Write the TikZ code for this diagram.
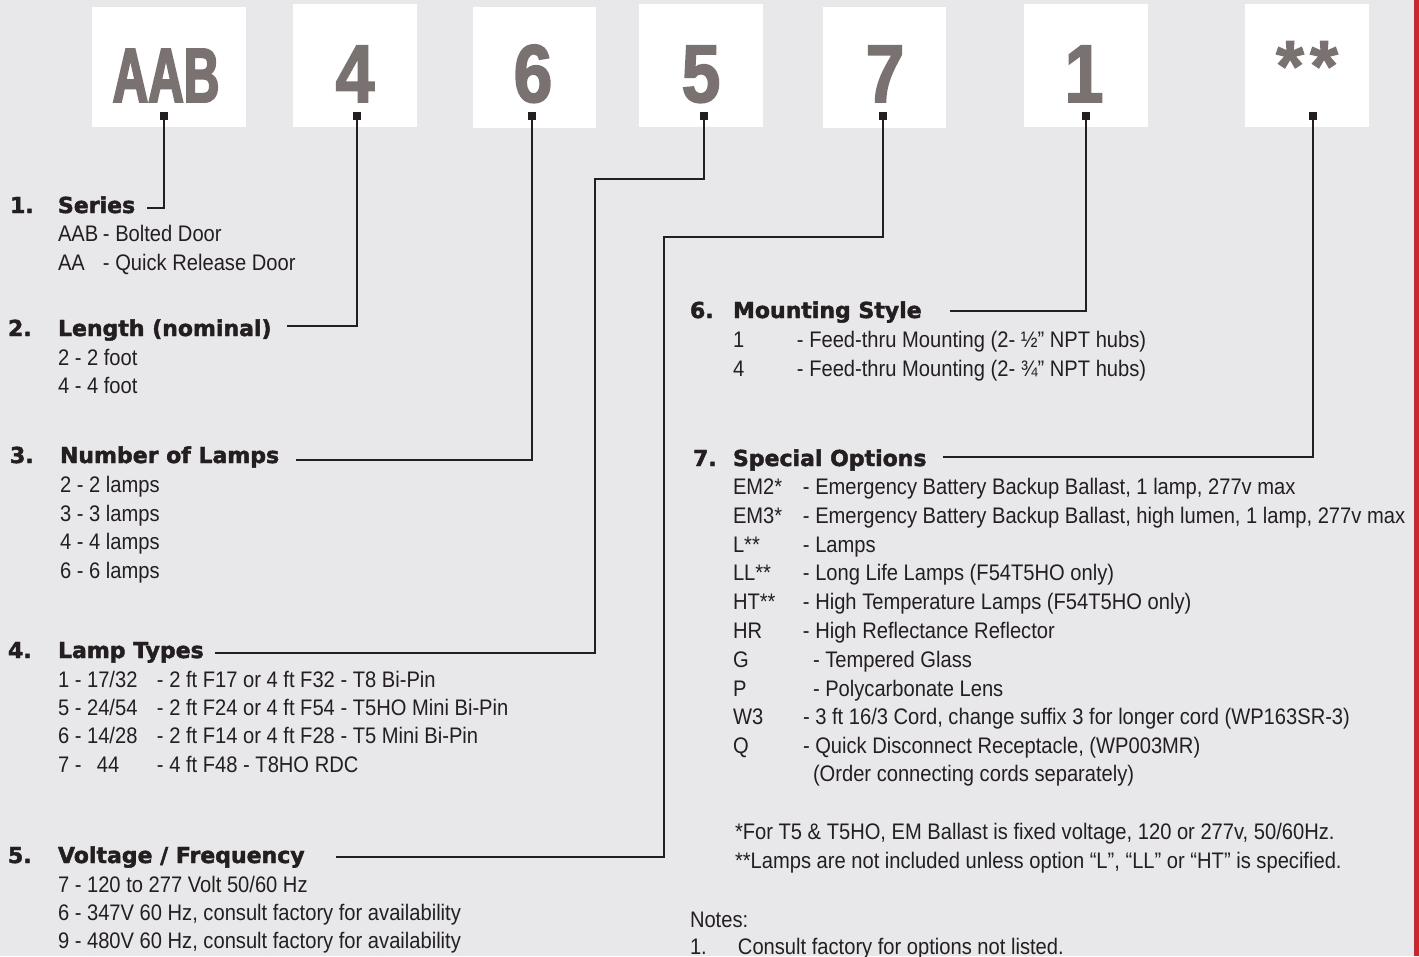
\documentclass[tikz,border=0pt]{standalone}
\usepackage{fontspec}
\setmainfont{Liberation Sans}[FakeStretch=0.895]
\newfontfamily\headfont{DejaVu Sans Bold}[FakeBold=2]
\newfontfamily\bigletters{Liberation Sans Bold}[FakeStretch=0.64,FakeBold=2.5]
\newfontfamily\bigdigits{Liberation Sans Bold}[FakeStretch=0.85,FakeBold=2]
\newfontfamily\starfont{Liberation Sans Bold}[FakeBold=1.5]
\definecolor{bg}{RGB}{232,232,234}
\definecolor{ink}{RGB}{35,31,32}
\definecolor{glyph}{RGB}{122,114,112}
\definecolor{redbar}{RGB}{210,35,42}
\begin{document}
\begin{tikzpicture}[x=1pt,y=-1pt,
  txt/.style={anchor=base west,inner sep=0pt,outer sep=0pt,text=ink,font=\fontsize{22.5}{27}\selectfont},
  head/.style={anchor=base west,inner sep=0pt,outer sep=0pt,text=ink,font=\headfont\fontsize{22}{26}\selectfont},
  codebox/.style={fill=white,draw=none,inner sep=0pt,anchor=north west},
  bigtxt/.style={anchor=base,inner sep=0pt,text=glyph},
  pin/.style={fill=ink,draw=none,minimum size=8pt,inner sep=0pt},
  wire/.style={draw=ink,line width=2.6pt}]
\useasboundingbox (0,0) rectangle (1419,956);
\fill[bg] (0,0) rectangle (1419,956);
\fill[redbar] (1414,0) rectangle (1419,956);

% code boxes
\node[codebox,minimum width=154pt,minimum height=120pt] (b1) at (92,7) {};
\node[codebox,minimum width=124pt,minimum height=123pt] (b2) at (293,4) {};
\node[codebox,minimum width=123pt,minimum height=121pt] (b3) at (473,7) {};
\node[codebox,minimum width=124pt,minimum height=123pt] (b4) at (639,4) {};
\node[codebox,minimum width=123pt,minimum height=121pt] (b5) at (823,7) {};
\node[codebox,minimum width=124pt,minimum height=123pt] (b6) at (1024,4) {};
\node[codebox,minimum width=124pt,minimum height=123pt] (b7) at (1245,4) {};

\node[bigtxt,font=\bigletters\fontsize{77}{80}\selectfont] (g1) at (166,102) {AAB};
\node[bigtxt,font=\bigdigits\fontsize{82}{85}\selectfont] (g2) at (355,102) {4};
\node[bigtxt,font=\bigdigits\fontsize{82}{85}\selectfont] (g3) at (533,102) {6};
\node[bigtxt,font=\bigdigits\fontsize{82}{85}\selectfont] (g4) at (701,102) {5};
\node[bigtxt,font=\bigdigits\fontsize{82}{85}\selectfont] (g5) at (885,102) {7};
\node[bigtxt,font=\bigdigits\fontsize{82}{85}\selectfont] (g6) at (1084,102) {1};
\node[anchor=center,inner sep=0pt,text=glyph,font=\starfont\fontsize{72}{75}\selectfont] (g7) at (1307,66) {*\hspace{6pt}*};

% pins
\node[pin] (p1) at (164,116) {};
\node[pin] (p2) at (357,116) {};
\node[pin] (p3) at (532,116) {};
\node[pin] (p4) at (704,116) {};
\node[pin] (p5) at (883,116) {};
\node[pin] (p6) at (1086,116) {};
\node[pin] (p7) at (1313,116) {};

% connector ends
\coordinate (e1) at (147,208);
\coordinate (e2) at (287,326);
\coordinate (e3) at (296,460);
\coordinate (k4) at (595,179);
\coordinate (e4) at (215,653);
\coordinate (k5) at (664,237);
\coordinate (e5) at (336,857);
\coordinate (e6) at (950,311);
\coordinate (e7) at (943,457);

\draw[wire] (p1.center) |- (e1);
\draw[wire] (p2.center) |- (e2);
\draw[wire] (p3.center) |- (e3);
\draw[wire] (p4.center) |- (k4) |- (e4);
\draw[wire] (p5.center) |- (k5) |- (e5);
\draw[wire] (p6.center) |- (e6);
\draw[wire] (p7.center) |- (e7);

% left column
\node[head] (n1) at (10,213) {1.};
\node[head] (h1) at (58,213) {Series};
\node[txt] (t1a) at (58,241) {\makebox[45pt][l]{AAB}- Bolted Door};
\node[txt] (t1b) at (58,270) {\makebox[45pt][l]{AA}- Quick Release Door};

\node[head] (n2) at (8,336) {2.};
\node[head] (h2) at (58,336) {Length (nominal)};
\node[txt] (t2a) at (58,365) {2 - 2 foot};
\node[txt] (t2b) at (58,393) {4 - 4 foot};

\node[head] (n3) at (10,463) {3.};
\node[head] (h3) at (60,463) {Number of Lamps};
\node[txt] (t3a) at (60,492) {2 - 2 lamps};
\node[txt] (t3b) at (60,521) {3 - 3 lamps};
\node[txt] (t3c) at (60,549) {4 - 4 lamps};
\node[txt] (t3d) at (60,578) {6 - 6 lamps};

\node[head] (n4) at (8,658) {4.};
\node[head] (h4) at (58,658) {Lamp Types};
\node[txt] (t4a) at (58,687) {\makebox[99pt][l]{1 - 17/32}- 2 ft F17 or 4 ft F32 - T8 Bi-Pin};
\node[txt] (t4b) at (58,715) {\makebox[99pt][l]{5 - 24/54}- 2 ft F24 or 4 ft F54 - T5HO Mini Bi-Pin};
\node[txt] (t4c) at (58,743) {\makebox[99pt][l]{6 - 14/28}- 2 ft F14 or 4 ft F28 - T5 Mini Bi-Pin};
\node[txt] (t4d) at (58,772) {\makebox[39pt][l]{7 -}\makebox[60pt][l]{44}- 4 ft F48 - T8HO RDC};

\node[head] (n5) at (8,863) {5.};
\node[head] (h5) at (58,863) {Voltage / Frequency};
\node[txt] (t5a) at (58,892) {7 - 120 to 277 Volt 50/60 Hz};
\node[txt] (t5b) at (58,920) {6 - 347V 60 Hz, consult factory for availability};
\node[txt] (t5c) at (58,948) {9 - 480V 60 Hz, consult factory for availability};

% right column
\node[head] (n6) at (690,318) {6.};
\node[head] (h6) at (733,318) {Mounting Style};
\node[txt] (t6a) at (733,347) {\makebox[64pt][l]{1}- Feed-thru Mounting (2- ½” NPT hubs)};
\node[txt] (t6b) at (733,376) {\makebox[64pt][l]{4}- Feed-thru Mounting (2- ¾” NPT hubs)};

\node[head] (n7) at (693,466) {7.};
\node[head] (h7) at (733,466) {Special Options};
\node[txt] (t7a) at (733,494) {\makebox[70pt][l]{EM2*}- Emergency Battery Backup Ballast, 1 lamp, 277v max};
\node[txt] (t7b) at (733,523) {\makebox[70pt][l]{EM3*}- Emergency Battery Backup Ballast, high lumen, 1 lamp, 277v max};
\node[txt] (t7c) at (733,552) {\makebox[70pt][l]{L**}- Lamps};
\node[txt] (t7d) at (733,580) {\makebox[70pt][l]{LL**}- Long Life Lamps (F54T5HO only)};
\node[txt] (t7e) at (733,609) {\makebox[70pt][l]{HT**}- High Temperature Lamps (F54T5HO only)};
\node[txt] (t7f) at (733,638) {\makebox[70pt][l]{HR}- High Reflectance Reflector};
\node[txt] (t7g) at (733,667) {\makebox[80pt][l]{G}- Tempered Glass};
\node[txt] (t7h) at (733,696) {\makebox[80pt][l]{P}- Polycarbonate Lens};
\node[txt] (t7i) at (733,724) {\makebox[70pt][l]{W3}- 3 ft 16/3 Cord, change suffix 3 for longer cord (WP163SR-3)};
\node[txt] (t7j) at (733,753) {\makebox[70pt][l]{Q}- Quick Disconnect Receptacle, (WP003MR)};
\node[txt] (t7k) at (813,781) {(Order connecting cords separately)};

\node[txt] (f1) at (735,839) {*For T5 \& T5HO, EM Ballast is fixed voltage, 120 or 277v, 50/60Hz.};
\node[txt] (f2) at (735,868) {**Lamps are not included unless option “L”, “LL” or “HT” is specified.};
\node[txt] (notes) at (690,927) {Notes:};
\node[txt] (nn1) at (690,954) {\makebox[48pt][l]{1.}Consult factory for options not listed.};
\end{tikzpicture}
\end{document}
